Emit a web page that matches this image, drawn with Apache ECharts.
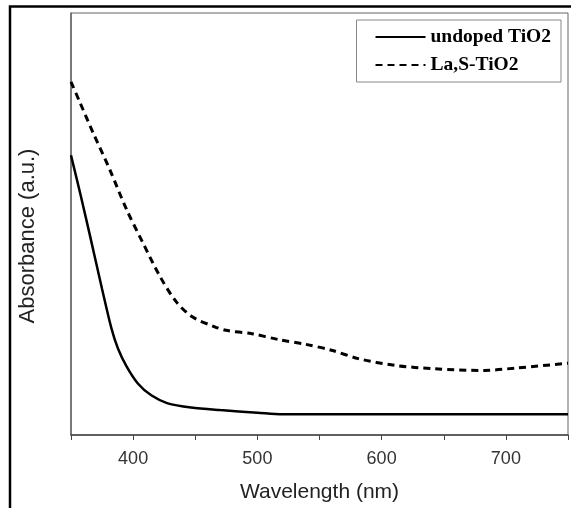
<!DOCTYPE html>
<html>
<head>
<meta charset="utf-8">
<script src="https://cdn.jsdelivr.net/npm/echarts@6/dist/echarts.min.js"></script>
<style>html,body{margin:0;padding:0;background:#fff}#c{width:571px;height:508px}</style>
</head>
<body>
<div id="c"></div>
<script>
const seriesNames = ['undoped TiO2', 'La,S-TiO2'];
const undopedWl  = [350, 358, 365, 375, 382.6, 387.8, 394.6, 403.8, 414.6, 427.8, 446.6, 470, 500, 520, 600, 700, 750];
const undopedAbs = [66.3, 56.5, 47.6, 34.6, 25.2, 20.5, 16.3, 12.2, 9.4, 7.5, 6.5, 5.9, 5.3, 4.9, 4.9, 4.9, 4.9];
const dopedWl  = [350, 357.2, 367.8, 381.2, 394.6, 407.6, 421.2, 434.6, 447.6, 465.2, 474.6, 495.6, 517.2, 538.6, 559.6, 581.2, 610.6, 642.6, 682.6, 709.2, 750];
const dopedAbs = [83.7, 78.8, 71.6, 62.9, 53.5, 45.7, 37.8, 31.6, 28.0, 25.7, 24.8, 24.0, 22.6, 21.5, 20.1, 18.1, 16.5, 15.7, 15.3, 15.9, 17.0];
const xTickLabels = [400, 500, 600, 700];

const pairs = (xs, ys) => xs.map((x, i) => [x, ys[i]]);

const chart = echarts.init(document.getElementById('c'), null, {renderer: 'canvas'});
chart.setOption({
  animation: false,
  backgroundColor: '#fff',
  graphic: [{
    type: 'polyline',
    shape: {points: [[10, 508], [10, 6.5], [571, 6.5]]},
    style: {stroke: '#000', lineWidth: 2.5, fill: null}
  }],
  grid: {left: 71, right: 2, top: 13, bottom: 71, show: true, borderColor: '#666', borderWidth: 1, backgroundColor: 'transparent'},
  legend: {
    orient: 'vertical',
    right: 10, top: 20,
    padding: [7, 10, 7, 18],
    itemGap: 8,
    itemWidth: 50, itemHeight: 14,
    borderColor: '#888', borderWidth: 1,
    itemStyle: {opacity: 0},
    data: seriesNames,
    textStyle: {fontFamily: 'Liberation Serif', fontWeight: 'bold', fontSize: 19.5, color: '#000'}
  },
  xAxis: {
    type: 'value', min: 350, max: 750, interval: 50,
    name: 'Wavelength (nm)', nameLocation: 'middle', nameGap: 47,
    nameTextStyle: {fontFamily: 'Liberation Sans', fontSize: 21, color: '#222'},
    axisLine: {lineStyle: {color: '#444', width: 1.5}},
    axisTick: {show: true, inside: false, length: 5, lineStyle: {color: '#444'}},
    axisLabel: {margin: 15, fontFamily: 'Liberation Sans', fontSize: 18, color: '#333',
      formatter: v => xTickLabels.indexOf(v) >= 0 ? String(v) : ''},
    splitLine: {show: false}
  },
  yAxis: {
    type: 'value', min: 0, max: 100,
    name: 'Absorbance (a.u.)', nameLocation: 'middle', nameGap: 32,
    nameTextStyle: {fontFamily: 'Liberation Sans', fontSize: 22, color: '#222', padding: [0, 24, 0, 0]},
    axisLine: {show: true, lineStyle: {color: '#666', width: 1.5}},
    axisTick: {show: false}, axisLabel: {show: false}, splitLine: {show: false}
  },
  series: [
    {name: seriesNames[0], type: 'line', smooth: 0.3, symbol: 'none',
     lineStyle: {color: '#000', width: 2.5, type: 'solid'}, itemStyle: {color: '#000'},
     data: pairs(undopedWl, undopedAbs)},
    {name: seriesNames[1], type: 'line', smooth: 0.3, symbol: 'none',
     lineStyle: {color: '#000', width: 3, type: [7, 5]}, itemStyle: {color: '#000'},
     data: pairs(dopedWl, dopedAbs)}
  ]
});
</script>
</body>
</html>
